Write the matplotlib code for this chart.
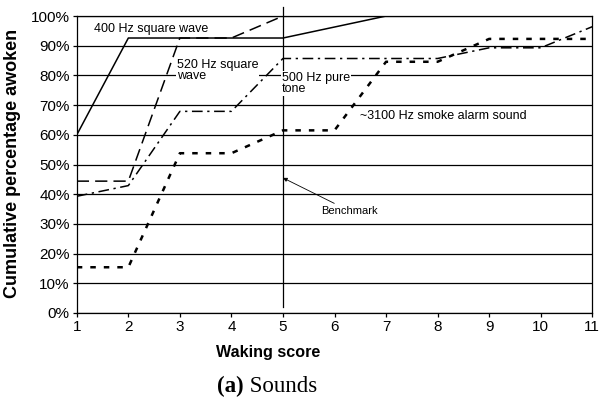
import matplotlib
matplotlib.use("Agg")
import matplotlib.pyplot as plt
from matplotlib.ticker import PercentFormatter

plt.rcParams['font.family'] = ['Liberation Sans', 'DejaVu Sans']

# waking score 1..11, cumulative % awoken
scores = [1, 2, 3, 4, 5, 6, 7, 8, 9, 10, 11]
sq400 = [60.0, 92.6, 92.6, 92.6, 92.6, 96.3, 100, 100, 100, 100, 100]
sq520 = [44.4, 44.4, 92.6, 92.6, 100, 100, 100, 100, 100, 100, 100]
pure500 = [39.3, 42.9, 67.9, 67.9, 85.7, 85.7, 85.7, 85.7, 89.3, 89.3, 96.4]
smoke3100 = [15.4, 15.4, 53.8, 53.8, 61.5, 61.5, 84.6, 84.6, 92.3, 92.3, 92.3]

benchmark = 5
yticks = list(range(0, 101, 10))

fig = plt.figure(figsize=(6.0, 4.01), dpi=100)
ax = fig.add_axes([0.128, 0.2195, 0.859, 0.7405])

for y in yticks:
    ax.axhline(y, color='black', linewidth=0.9, zorder=1)

ax.plot(scores, sq400, color='black', linewidth=1.1, zorder=3)
ax.plot(scores, sq520, color='black', linewidth=1.1, dashes=(8, 4), zorder=3)
ax.plot(scores, pure500, color='black', linewidth=1.1, dashes=(7, 3, 1.5, 3), zorder=3)
ax.plot(scores, smoke3100, color='black', linewidth=1.8, dashes=(2.2, 3.2), zorder=3)

# benchmark line
ax.plot([benchmark, benchmark], [2, 103], color='black', linewidth=0.9,
        clip_on=False, zorder=2)
ax.annotate('Benchmark', xy=(benchmark, 45.5), xytext=(5.75, 34.3),
            fontsize=8, va='center', ha='left',
            arrowprops=dict(arrowstyle='-|>', color='black', linewidth=0.6,
                            mutation_scale=6, shrinkA=0, shrinkB=0))

lbl = dict(fontsize=9, ha='left', va='center', zorder=4)
box = dict(facecolor='white', edgecolor='none', pad=0.5)
ax.text(1.33, 95.6, '400 Hz square wave', **lbl)
ax.text(2.94, 81.6, '520 Hz square\nwave', linespacing=0.95, bbox=box, **lbl)
ax.text(4.98, 77.3, '500 Hz pure\ntone', linespacing=0.95, bbox=box, **lbl)
ax.text(6.5, 66.3, '~3100 Hz smoke alarm sound', bbox=box, **lbl)

ax.set_xlim(1, 11)
ax.set_ylim(0, 100)
ax.set_xticks(scores)
ax.set_yticks(yticks)
ax.yaxis.set_major_formatter(PercentFormatter(decimals=0))
ax.tick_params(direction='out', length=3, width=0.9, labelsize=11, pad=2)
for s in ax.spines.values():
    s.set_linewidth(0.9)

fig.text(13 / 600, 1 - 163 / 401, 'Cumulative percentage awoken', fontsize=13,
         fontweight='bold', rotation=90, ha='center', va='center')
fig.text(268 / 600, 1 - 352 / 401, 'Waking score', fontsize=11.6,
         fontweight='bold', ha='center', va='center')

cap = fig.text(217 / 600, 1 - 392 / 401, '(a)', fontsize=16.5, fontweight='bold',
               family='Liberation Serif', ha='left', va='baseline')
ax.annotate(' Sounds', xy=(1, 0), xycoords=cap, fontsize=16.5,
            family='Liberation Serif', ha='left', va='bottom')

fig.savefig('out.png', dpi=100)
